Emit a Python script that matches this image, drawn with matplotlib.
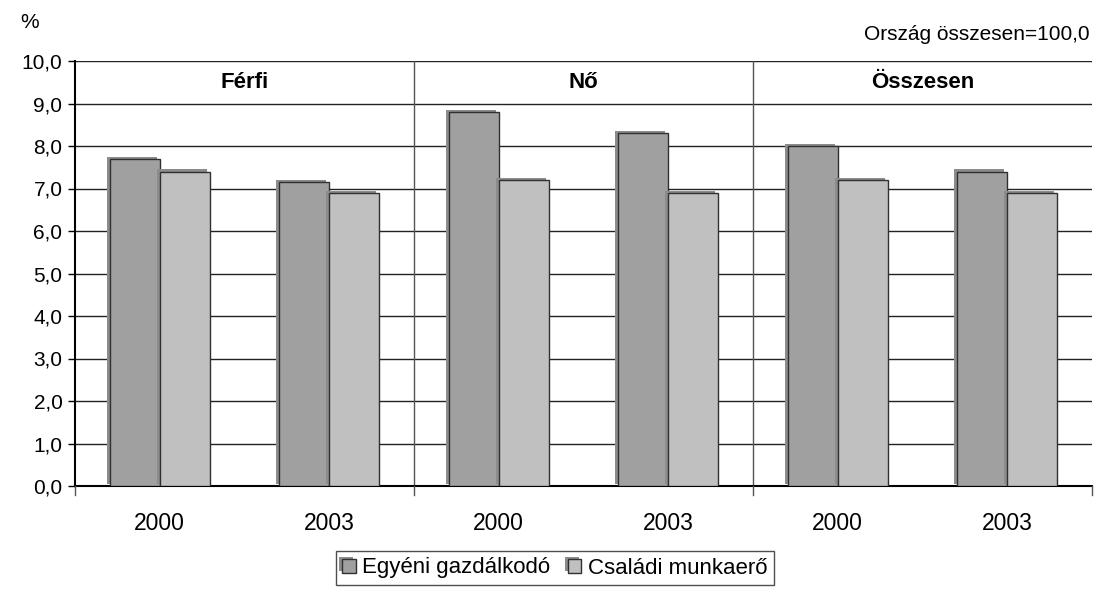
import numpy as np
import matplotlib.pyplot as plt
import matplotlib.patheffects as pe

plt.rcParams['font.family'] = ['Liberation Sans', 'DejaVu Sans']

# adatok
panels = ['Férfi', 'Nő', 'Összesen']
years = ['2000', '2003', '2000', '2003', '2000', '2003']
egyeni = [7.7, 7.15, 8.8, 8.3, 8.0, 7.4]
csaladi = [7.4, 6.9, 7.2, 6.9, 7.2, 6.9]
series_names = ['Egyéni gazdálkodó', 'Családi munkaerő']

fig = plt.figure(figsize=(10.95, 5.92), dpi=100)
ax = fig.add_axes([75/1095, 1-486/592, 1017/1095, 425/592])

x = np.arange(len(years))
w = 0.295
shadow = [pe.SimplePatchShadow(offset=(-2, 1.5), shadow_rgbFace='#8c8c8c', alpha=1), pe.Normal()]
b1 = ax.bar(x - w/2, egyeni, w, color='#a0a0a0', edgecolor='#303030', linewidth=1, zorder=3,
            label=series_names[0])
b2 = ax.bar(x + w/2, csaladi, w, color='#c0c0c0', edgecolor='#303030', linewidth=1, zorder=3,
            label=series_names[1])
for b in list(b1) + list(b2):
    b.set_path_effects(shadow)

ax.set_xlim(-0.5, len(years) - 0.5)
ax.set_ylim(0, 10)
ax.set_yticks(np.arange(0, 10.01, 1))
ax.set_yticklabels([f'{v:.1f}'.replace('.', ',') for v in np.arange(0, 10.01, 1)], fontsize=15)
ax.yaxis.grid(True, color='#222222', linewidth=1)
ax.set_axisbelow(True)
ax.tick_params(axis='y', length=5, width=1, pad=4)

# x tengely: évek a kategóriák alatt, osztások a panelhatárokon
ax.set_xticks(x)
ax.set_xticklabels(years, fontsize=16.5)
ax.tick_params(axis='x', length=0, pad=19)
for b in [-0.5, 1.5, 3.5, 5.5]:
    ax.plot([b, b], [0, -0.22], color='#555555', lw=1, clip_on=False, zorder=4)
for b in [1.5, 3.5]:
    ax.axvline(b, color='#555555', lw=1, zorder=2)

for i, name in enumerate(panels):
    ax.text(2*i + 0.5, 9.5, name, ha='center', va='center', fontsize=16, fontweight='bold')

for s in ['top', 'right']:
    ax.spines[s].set_visible(False)
ax.spines['left'].set_linewidth(1.5)
ax.spines['bottom'].set_linewidth(1.5)

fig.text(20/1095, 1-22/592, '%', fontsize=15, ha='left', va='center')
fig.text(1090/1095, 1-35/592, 'Ország összesen=100,0', fontsize=15, ha='right', va='center')

leg = fig.legend(handles=[b1, b2], loc='center', bbox_to_anchor=(555/1095, 1-568/592), ncol=2,
                 fontsize=16, frameon=True, fancybox=False, edgecolor='#222222',
                 handlelength=0.6, handleheight=0.6, handletextpad=0.3, columnspacing=0.8,
                 borderpad=0.3, borderaxespad=0)
leg.get_frame().set_linewidth(1)

fig.savefig('out.png', dpi=100)
